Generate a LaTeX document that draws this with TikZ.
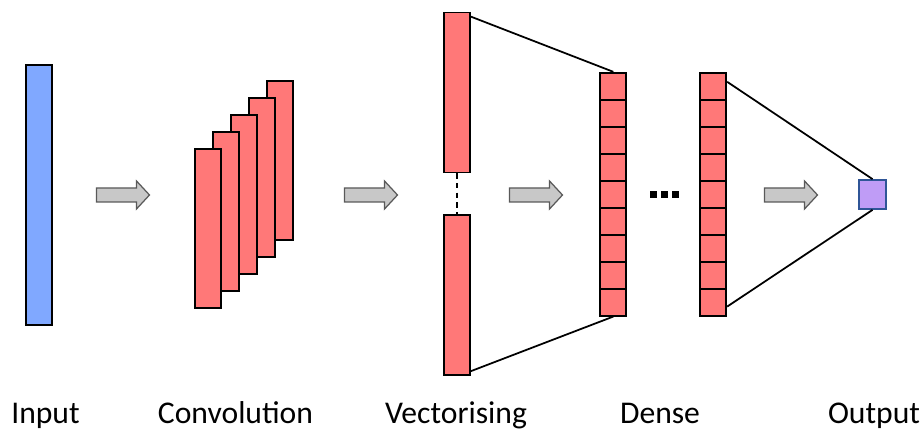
\documentclass[tikz,border=0pt]{standalone}
\usepackage{fontspec}
\setmainfont{Carlito}

\definecolor{layerred}{HTML}{FF7878}
\definecolor{inblue}{HTML}{80A8FF}
\definecolor{outpurple}{HTML}{BF9CF6}
\definecolor{outedge}{HTML}{2F5597}
\definecolor{arrowgray}{HTML}{C8C8C8}

\tikzset{
  layer/.style={draw, line width=1pt, fill=layerred, inner sep=0pt, minimum width=0.52cm},
  cell/.style={layer, minimum height=0.54cm},
  link/.style={line width=1pt},
  caption/.style={anchor=base, font=\fontsize{18}{22}\selectfont},
  % block arrow between stages, drawn around its centre
  flow/.pic={
    \draw[draw=black!65, fill=arrowgray, line width=0.7pt, line join=miter]
      (-26.5,-7) -- (13.5,-7) -- (13.5,-14) -- (26.5,0) -- (13.5,14) -- (13.5,7)
      -- (-26.5,7) -- cycle;
  }
}

\begin{document}
\begin{tikzpicture}[x=0.02cm, y=-0.02cm]
\useasboundingbox (0,0) rectangle (922,431);

% input
\node[layer, fill=inblue, minimum height=5.2cm] (in) at (38.8,194.7) {};

% convolution stack, back to front
\foreach \i in {4,3,2,1,0}
  \node[layer, minimum height=3.18cm] (c\i) at (208.3+18*\i, 228.8-17*\i) {};

% vectorising
\node[layer, minimum height=3.2cm] (vtop) at (457,92.5) {};
\node[layer, minimum height=3.2cm] (vbot) at (457,295.3) {};
\draw[link, dash pattern=on 3pt off 2.5pt] (vtop.south) -- (vbot.north);

% dense columns
\foreach \k in {0,...,8} {
  \node[cell] (d1-\k) at (613.3, 86.2+27*\k) {};
  \node[cell] (d2-\k) at (713.3, 86.2+27*\k) {};
}
\foreach \x in {653,664,675}
  \fill (\x-3.5,191.5) rectangle ++(7,7);

% output
\node[draw=outedge, line width=1pt, fill=outpurple, inner sep=0pt,
  minimum width=0.54cm, minimum height=0.58cm] (out) at (872.5,194.5) {};

% connections
\draw[link] ([yshift=-0.1cm]vtop.north east) -- (d1-0.north);
\draw[link] ([yshift=0.1cm]vbot.south east) -- (d1-8.south);
\draw[link] ([yshift=-0.2cm]d2-0.north east) -- (out.north);
\draw[link] ([yshift=0.2cm]d2-8.south east) -- (out.south);

% flow arrows
\pic at (123,195) {flow};
\pic at (371,195) {flow};
\pic at (536,195) {flow};
\pic at (791,195) {flow};

% captions
\node[caption] (t1) at (45.5,424) {Input};
\node[caption] (t2) at (235.5,424) {Convolution};
\node[caption] (t3) at (456,424) {Vectorising};
\node[caption] (t4) at (660,424) {Dense};
\node[caption] (t5) at (874,424) {Output};
\end{tikzpicture}
\end{document}
